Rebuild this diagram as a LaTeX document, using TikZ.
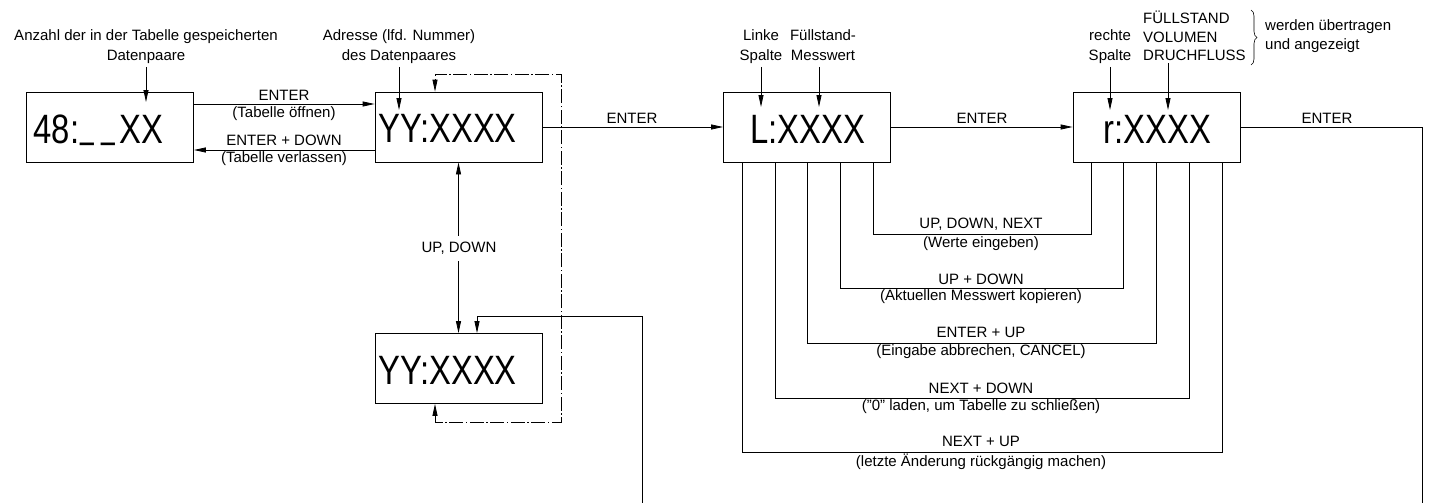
\documentclass[tikz,border=0pt]{standalone}
\usepackage{fontspec}
\setmainfont{Liberation Sans}
\usetikzlibrary{arrows.meta,decorations.pathreplacing,calc}
\newcommand{\segus}{\raisebox{6pt}{\scalebox{0.75}[1]{\_}}}
\begin{document}
\begin{tikzpicture}[x=1pt,y=-1pt,
  every node/.style={font=\fontsize{15}{20}\selectfont, inner sep=0pt},
  disp/.style={draw, line width=0.8pt, minimum width=167pt, minimum height=70pt},
  seg/.style={font=\fontsize{41}{41}\selectfont, anchor=base},
  ln/.style={line width=0.8pt},
  arr/.style={ln, -{Triangle[length=12pt,width=5pt]}},
  arrb/.style={ln, {Triangle[length=12pt,width=5pt]}-{Triangle[length=12pt,width=5pt]}},
  dd/.style={line width=0.8pt, dash pattern=on 14pt off 2.5pt on 1.5pt off 2.5pt},
  lbl/.style={fill=white, inner xsep=2pt, inner ysep=6pt}
]
\useasboundingbox (0,0) rectangle (1429,503);
\fill[white] (0,0) rectangle (1429,503);

% display boxes
\node[disp] (b1) at (110,127) {};
\node[disp] (b2) at (458.5,127) {};
\node[disp] (b3) at (458.5,368.5) {};
\node[disp] (b4) at (807,127) {};
\node[disp] (b5) at (1156.5,127) {};

% display contents
\node[seg] (t1) at (98.5,143) {\scalebox{0.8}[1]{48:\hspace{2pt}\segus\hspace{8pt}\segus\hspace{6pt}XX}};
\node[seg] (t2) at (447.5,142) {\scalebox{0.8}[1]{YY:XXXX}};
\node[seg] (t3) at (447.5,384) {\scalebox{0.8}[1]{YY:XXXX}};
\node[seg] (t4) at (807.5,143) {\scalebox{0.8}[1]{L:XXXX}};
\node[seg] (t5) at (1157.5,143) {\scalebox{0.8}[1]{r:XXXX}};

% annotations above
\node[align=center] (la) at (146,46.7) {\strut Anzahl der in der Tabelle gespeicherten\\Datenpaare\strut};
\coordinate (pa) at (146,102);
\draw[arr] (la.south) -- (pa);

\node[align=center] (lb) at (399,46.7) {\strut Adresse (lfd. Nummer)\\des Datenpaares\strut};
\coordinate (pb) at (399,110);
\draw[arr] (lb.south) -- (pb);

\node[align=center] (lc) at (761,46.7) {\strut Linke\\Spalte\strut};
\coordinate (pc) at (761,107);
\draw[arr] (lc.south) -- (pc);

\node[align=center] (ld) at (823,46.7) {\strut Füllstand-\\Messwert\strut};
\coordinate (pd) at (819,107);
\draw[arr] ([xshift=-4pt]ld.south) -- (pd);

\node[align=center] (le) at (1110,46.7) {\strut rechte\\Spalte\strut};
\coordinate (pe) at (1110,110);
\draw[arr] (le.south) -- (pe);

\node[align=left, anchor=west, font=\fontsize{15}{18.3}\selectfont] (lf) at (1143,38.5) {\strut FÜLLSTAND\\VOLUMEN\\DRUCHFLUSS\strut};
\coordinate (pf) at (1168,110);
\draw[arr] ($(lf.south west)+(25,-3)$) -- (pf);

\draw[line width=0.6pt, decorate, decoration={brace, amplitude=6pt}] (1251,10) -- (1251,65);
\node[align=left, anchor=west, font=\fontsize{15}{18.3}\selectfont] (lg) at (1265,36.2) {\strut werden übertragen\\und angezeigt\strut};

% box1 <-> box2
\draw[arr] ([yshift=23pt]b1.east) -- ([yshift=23pt]b2.west);
\node (n1) at (284,95.7) {ENTER};
\node (n2) at (284,113.5) {(Tabelle öffnen)};
\draw[arr] ([yshift=-23pt]b2.west) -- ([yshift=-23pt]b1.east);
\node (n3) at (284,140.5) {ENTER + DOWN};
\node (n4) at (284,158.3) {(Tabelle verlassen)};

% box2 -> box4 -> box5 -> out
\draw[arr] (b2.east) -- (b4.west);
\node (n5) at (632,118.5) {ENTER};
\draw[arr] (b4.east) -- (b5.west);
\node (n6) at (982,118.5) {ENTER};
\coordinate (e1) at (1422,127);
\coordinate (e2) at (1422,503);
\draw[ln] (b5.east) -- (e1) -- (e2);
\node (n7) at (1327,118.5) {ENTER};

% box2 <-> box3
\draw[arrb] (b2.south) -- (b3.north);
\node[lbl] (n8) at (459,248.5) {UP, DOWN};

% feed into box3
\coordinate (f0) at (642,503);
\coordinate (f1) at (642,316);
\draw[arr] (f0) -- (f1) -| ([xshift=18.5pt]b3.north);

% dash-dot loop
\draw[dd, {Triangle[length=12pt,width=5pt]}-{Triangle[length=12pt,width=5pt]}] ([xshift=-23.5pt]b3.south) -- ++(0,18) -| (561,74) -| ([xshift=-23.5pt]b2.north);

% loops between box4 and box5
\draw[ln] ([xshift=66pt]b4.south) -- ++(0,72) -| ([xshift=-65.5pt]b5.south);
\draw[ln] ([xshift=33pt]b4.south) -- ++(0,126) -| ([xshift=-33.5pt]b5.south);
\draw[ln] (b4.south) -- ++(0,181) -| (b5.south);
\draw[ln] ([xshift=-32pt]b4.south) -- ++(0,236) -| ([xshift=32.5pt]b5.south);
\draw[ln] ([xshift=-65pt]b4.south) -- ++(0,290) -| ([xshift=65.5pt]b5.south);

\node (m1) at (981,224.5) {UP, DOWN, NEXT};
\node (m2) at (981,243.5) {(Werte eingeben)};
\node (m3) at (981,279) {UP + DOWN};
\node (m4) at (981,297) {(Aktuellen Messwert kopieren)};
\node (m5) at (981,332) {ENTER + UP};
\node (m6) at (981,351.5) {(Eingabe abbrechen, CANCEL)};
\node (m7) at (981,388) {NEXT + DOWN};
\node (m8) at (981,407) {("0" laden, um Tabelle zu schließen)};
\node (m9) at (981,441) {NEXT + UP};
\node (m10) at (981,461.5) {(letzte Änderung rückgängig machen)};
\end{tikzpicture}
\end{document}
